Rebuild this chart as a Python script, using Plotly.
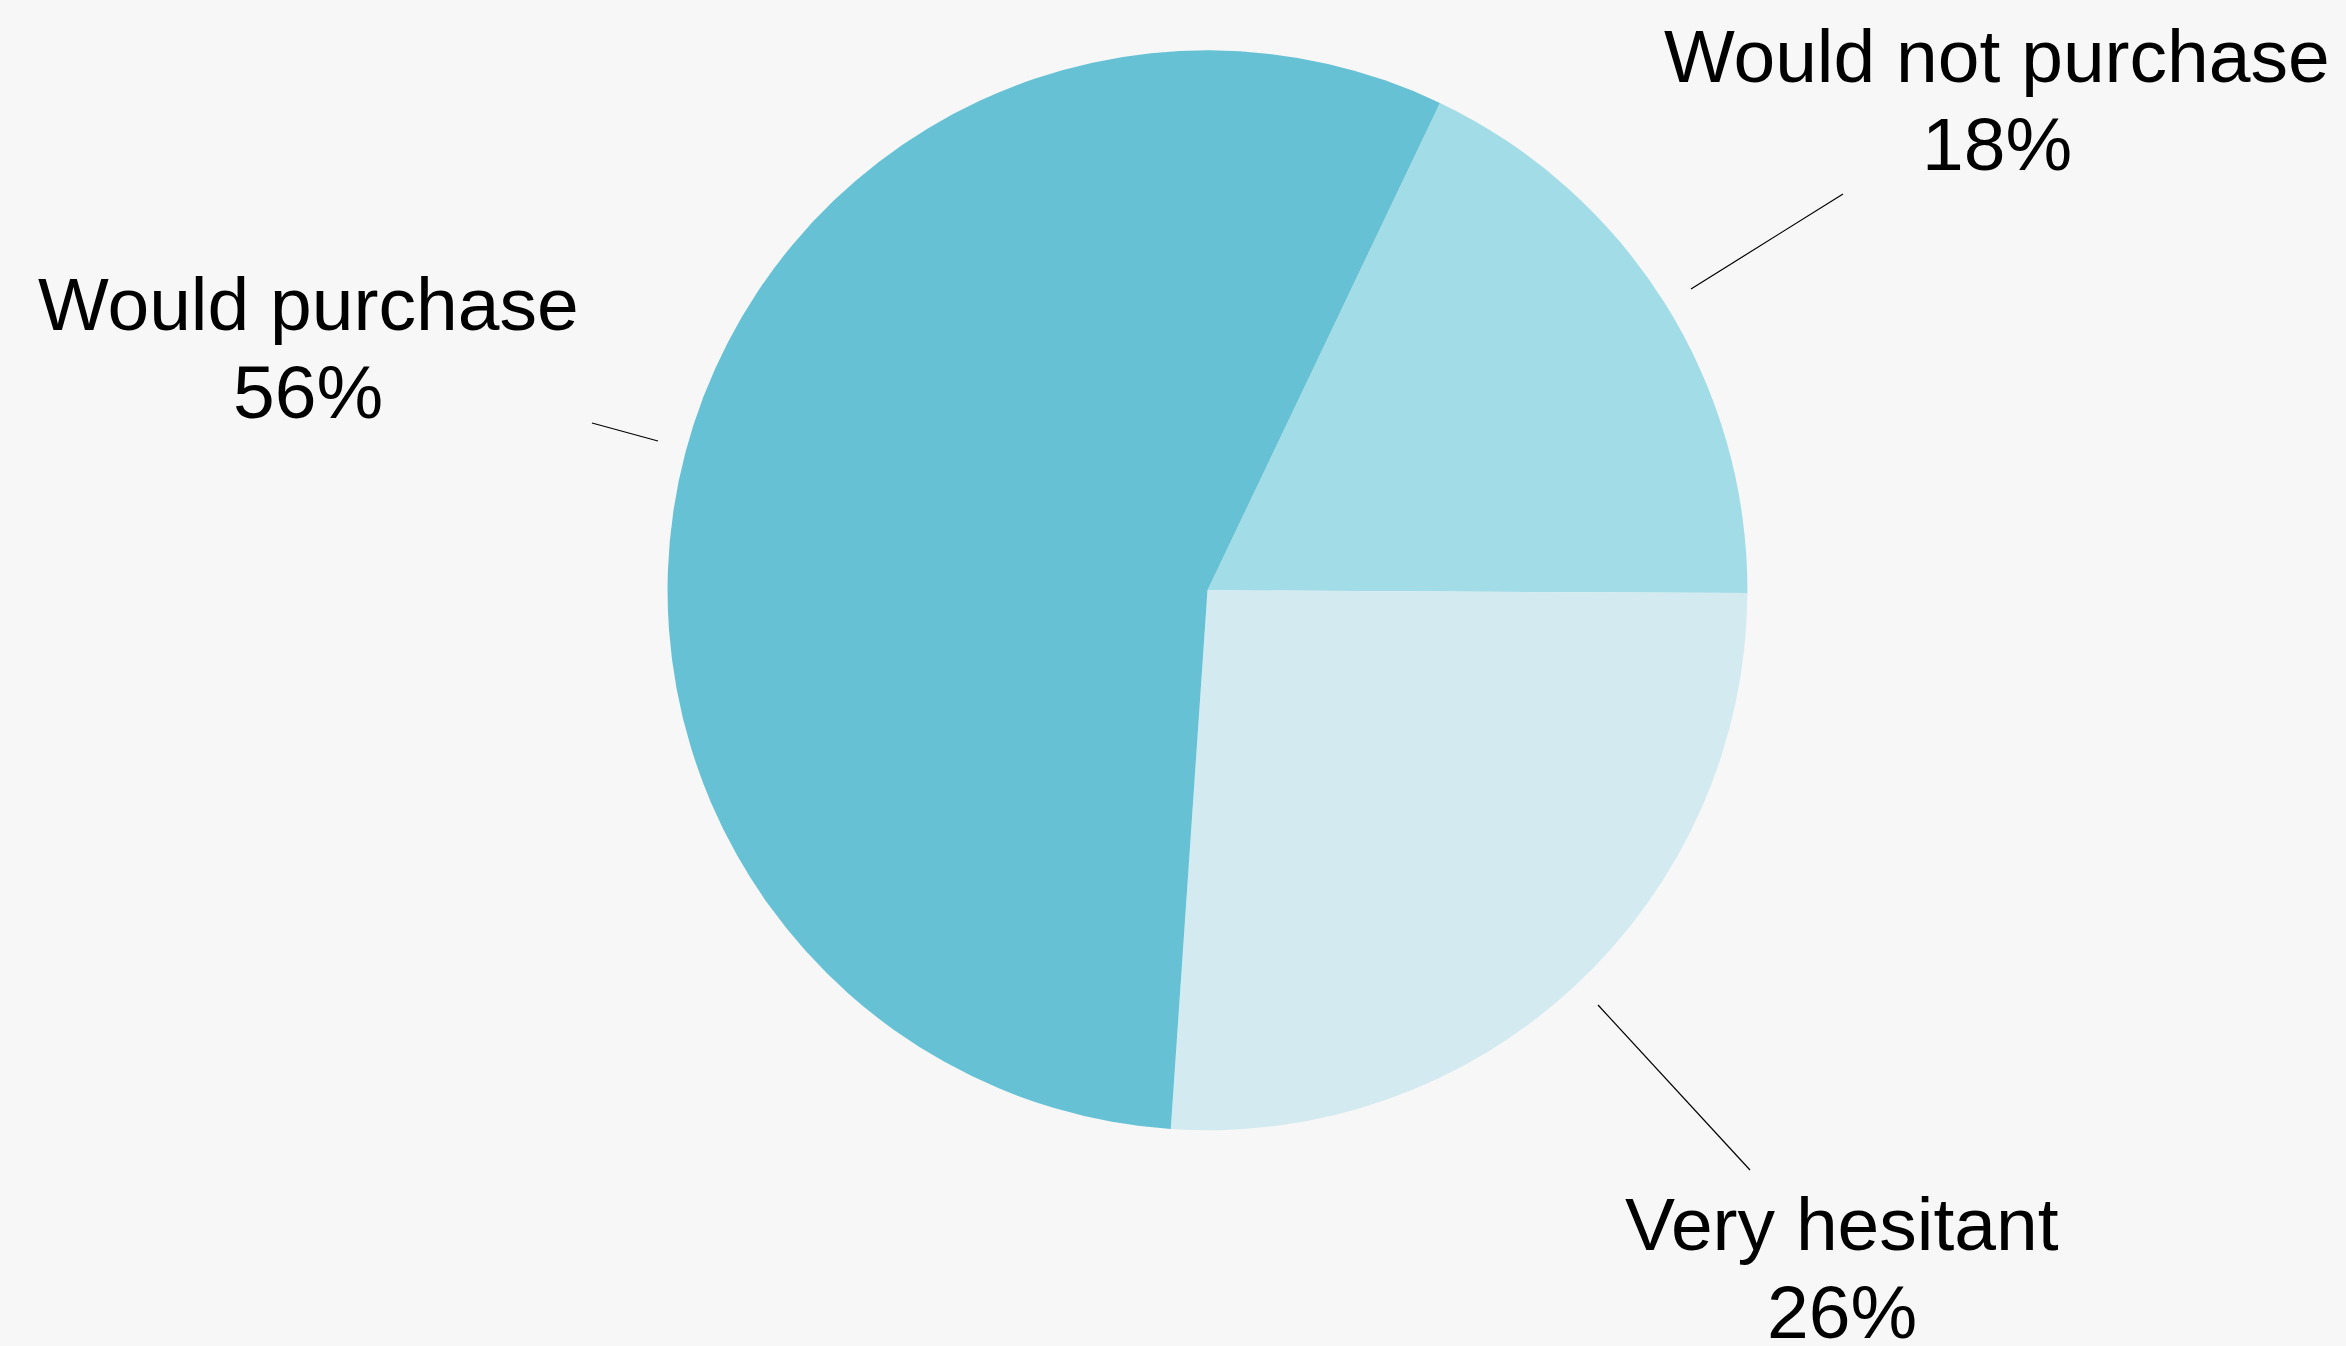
import plotly.graph_objects as go

# Data
labels = ["Would not purchase", "Very hesitant", "Would purchase"]
values = [18, 26, 56]
colors = ["#A2DCE7", "#D3EBF0", "#67C1D5"]

W, H = 2346, 1346
FONT = "Liberation Sans, Arial, Helvetica, sans-serif"
FS = 75

fig = go.Figure(
    go.Pie(
        labels=labels,
        values=values,
        sort=False,
        direction="clockwise",
        rotation=25.5,
        marker=dict(colors=colors, line=dict(width=0)),
        textinfo="none",
        hoverinfo="label+percent",
        showlegend=False,
        domain=dict(x=[0.2845, 0.7449], y=[0.1603, 0.9626]),
    )
)

# label placement (pixel centre x, baselines) and leader lines (pixel endpoints) - layout only
label_pos = {
    "Would not purchase": (1997, 84, 172),
    "Very hesitant": (1842, 1252, 1340),
    "Would purchase": (308, 332, 420),
}
leaders = {
    "Would not purchase": ((1691, 289), (1843, 194)),
    "Very hesitant": ((1598, 1005), (1750, 1170)),
    "Would purchase": ((592, 423), (658, 441)),
}

annotations = []
shapes = []
for lab, val in zip(labels, values):
    cx, b1, b2 = label_pos[lab]
    for txt, base in ((lab, b1), (f"{val}%", b2)):
        cy = base - 0.37 * FS
        annotations.append(
            dict(
                x=cx / W,
                y=1 - cy / H,
                xref="paper",
                yref="paper",
                text=txt,
                showarrow=False,
                xanchor="center",
                yanchor="middle",
                font=dict(family=FONT, size=FS, color="#000000"),
            )
        )
    (x0, y0), (x1, y1) = leaders[lab]
    shapes.append(
        dict(
            type="line",
            xref="paper",
            yref="paper",
            x0=x0 / W,
            y0=1 - y0 / H,
            x1=x1 / W,
            y1=1 - y1 / H,
            line=dict(color="#000000", width=1.2),
        )
    )

fig.update_layout(
    width=W,
    height=H,
    margin=dict(l=0, r=0, t=0, b=0),
    paper_bgcolor="#F7F7F7",
    plot_bgcolor="#F7F7F7",
    annotations=annotations,
    shapes=shapes,
    font=dict(family=FONT),
)

fig.write_html(
    "out.html",
    config={"displayModeBar": False},
    post_script="document.body.style.margin='0px';document.documentElement.style.overflow='hidden';",
)
